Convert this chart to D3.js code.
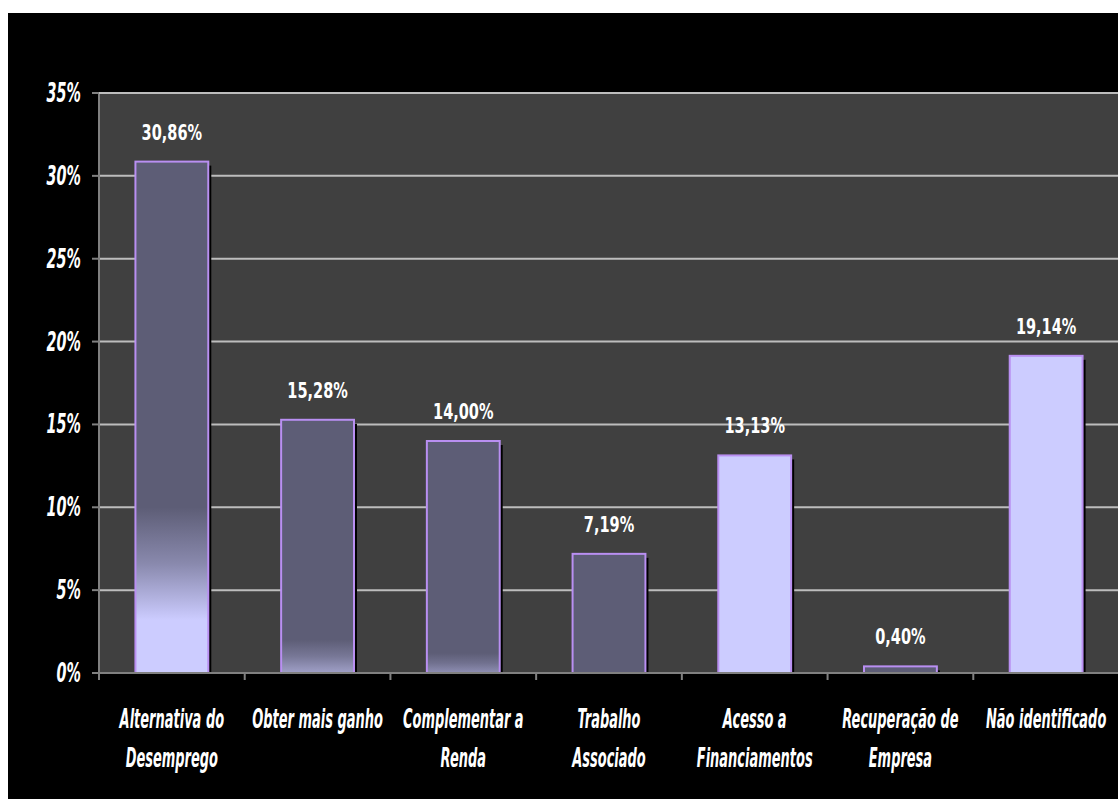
<!DOCTYPE html>
<html>
<head>
<meta charset="utf-8">
<script src="https://cdn.jsdelivr.net/npm/d3@7"></script>
<style>
  body { margin: 0; background: #fff; }
  svg text { font-family: "Liberation Sans Narrow", "DejaVu Sans Condensed", sans-serif; font-weight: bold; fill: #fff; }
</style>
</head>
<body>
<svg id="graph" width="1118" height="799"></svg>
<script>
const categories = [
  "Alternativa do\nDesemprego",
  "Obter mais ganho",
  "Complementar a\nRenda",
  "Trabalho\nAssociado",
  "Acesso a\nFinanciamentos",
  "Recuperação de\nEmpresa",
  "Não identificado",
];
const values = [30.86, 15.28, 14.0, 7.19, 13.13, 0.4, 19.14];
const valueLabels = ["30,86%", "15,28%", "14,00%", "7,19%", "13,13%", "0,40%", "19,14%"];
const yTicks = [0, 5, 10, 15, 20, 25, 30, 35];

// how each bar fades from dark (top) to lavender (bottom): [fade start %, fade end %, lightness at base]
const barFades = [
  [10.0, 3.2, 1],
  [2.0, 0, 0.6],
  [1.2, 0, 0.45],
  null,
  "light",
  null,
  "light",
];

const darkColor = "#5d5d76";
const lightColor = "#ccccff";

const scaledText = (sel, x, y, sx, sy) =>
  sel.attr("transform", `translate(${x},${y}) scale(${sx},${sy})`);

document.addEventListener("DOMContentLoaded", () => {
  const svg = d3.select("#graph");
  const plot = { left: 99, right: 1119, top: 93, bottom: 673 };

  // black frame
  svg.append("rect").attr("x", 8).attr("y", 13).attr("width", 1110).attr("height", 786).attr("fill", "#000");

  const x = d3.scaleBand().domain(d3.range(categories.length)).range([plot.left, plot.right]).paddingInner(0).paddingOuter(0);
  const y = d3.scaleLinear().domain([0, 35]).range([plot.bottom, plot.top]);

  svg.append("rect")
    .attr("x", plot.left).attr("y", plot.top)
    .attr("width", plot.right - plot.left).attr("height", plot.bottom - plot.top)
    .attr("fill", "#404040");

  // gridlines
  svg.append("g")
    .selectAll("line")
    .data(yTicks.filter((d) => d > 0))
    .enter()
    .append("line")
    .attr("x1", plot.left).attr("x2", plot.right)
    .attr("y1", (d) => y(d)).attr("y2", (d) => y(d))
    .attr("stroke", "#bdbdbd").attr("stroke-width", 2);

  // gradients
  const defs = svg.append("defs");
  const mix = d3.interpolateRgb(darkColor, lightColor);
  barFades.forEach((f, i) => {
    if (!Array.isArray(f)) return;
    const g = defs.append("linearGradient")
      .attr("id", `fade${i}`)
      .attr("gradientUnits", "userSpaceOnUse")
      .attr("x1", 0).attr("x2", 0)
      .attr("y1", y(f[0])).attr("y2", y(0));
    const endOffset = (y(f[1]) - y(f[0])) / (y(0) - y(f[0]));
    g.append("stop").attr("offset", 0).attr("stop-color", darkColor);
    g.append("stop").attr("offset", endOffset * 0.5).attr("stop-color", mix(f[2] * 0.4));
    g.append("stop").attr("offset", endOffset).attr("stop-color", mix(f[2]));
    g.append("stop").attr("offset", 1).attr("stop-color", mix(f[2]));
  });
  const barFill = (i) => {
    const f = barFades[i];
    if (f === "light") return lightColor;
    if (f === null) return darkColor;
    return `url(#fade${i})`;
  };

  const bw = x.bandwidth() * 0.5;
  const bx = (i) => x(i) + (x.bandwidth() - bw) / 2;

  // shadows
  svg.append("g")
    .selectAll("rect")
    .data(values)
    .enter()
    .append("rect")
    .attr("x", (d, i) => bx(i) + 3)
    .attr("y", (d) => y(d) + 4)
    .attr("width", bw)
    .attr("height", (d) => Math.max(0, y(0) - y(d) - 4))
    .attr("fill", "#000");

  // bars
  svg.append("g")
    .selectAll("rect")
    .data(values)
    .enter()
    .append("rect")
    .attr("x", (d, i) => bx(i))
    .attr("y", (d) => y(d))
    .attr("width", bw)
    .attr("height", (d) => y(0) - y(d))
    .attr("fill", (d, i) => barFill(i))
    .attr("stroke", "#b98ff2")
    .attr("stroke-width", 2);

  // value labels
  svg.append("g")
    .selectAll("text")
    .data(values)
    .enter()
    .append("text")
    .attr("text-anchor", "middle")
    .style("font-size", "19px")
    .each(function (d, i) {
      scaledText(d3.select(this), x(i) + x.bandwidth() / 2, y(d) - 22, 0.85, 1.15);
    })
    .text((d, i) => valueLabels[i]);

  // axes lines
  svg.append("line")
    .attr("x1", plot.left).attr("x2", plot.left)
    .attr("y1", plot.top).attr("y2", plot.bottom + 7)
    .attr("stroke", "#808080").attr("stroke-width", 2);
  svg.append("line")
    .attr("x1", plot.left - 7).attr("x2", plot.right)
    .attr("y1", plot.bottom).attr("y2", plot.bottom)
    .attr("stroke", "#808080").attr("stroke-width", 2);
  svg.append("line")
    .attr("x1", plot.left).attr("x2", plot.right)
    .attr("y1", plot.top).attr("y2", plot.top)
    .attr("stroke", "#bdbdbd").attr("stroke-width", 2);

  // y ticks + labels
  const yAxis = svg.append("g");
  yAxis.selectAll("line")
    .data(yTicks)
    .enter()
    .append("line")
    .attr("x1", plot.left - 7).attr("x2", plot.left)
    .attr("y1", (d) => y(d)).attr("y2", (d) => y(d))
    .attr("stroke", "#808080").attr("stroke-width", 2);
  yAxis.selectAll("text")
    .data(yTicks)
    .enter()
    .append("text")
    .attr("text-anchor", "end")
    .style("font-size", "20px")
    .style("font-style", "italic")
    .each(function (d) {
      scaledText(d3.select(this), 81, y(d) + 9, 0.8, 1.33);
    })
    .text((d) => `${d}%`);

  // x ticks
  svg.append("g")
    .selectAll("line")
    .data(d3.range(categories.length))
    .enter()
    .append("line")
    .attr("x1", (d) => x(d)).attr("x2", (d) => x(d))
    .attr("y1", plot.bottom).attr("y2", plot.bottom + 7)
    .attr("stroke", "#808080").attr("stroke-width", 2);

  // category labels
  const catG = svg.append("g");
  categories.forEach((c, i) => {
    c.split("\n").forEach((line, j) => {
      const t = catG.append("text")
        .attr("text-anchor", "middle")
        .style("font-size", "18.5px")
        .style("font-style", "italic")
        .text(line);
      scaledText(t, x(i) + x.bandwidth() / 2, 728 + j * 39, 0.78, 1.4);
    });
  });
});
</script>
</body>
</html>
